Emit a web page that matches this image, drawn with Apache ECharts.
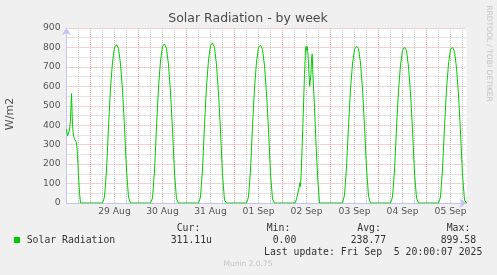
<!DOCTYPE html>
<html>
<head>
<meta charset="utf-8">
<title>Solar Radiation - by week</title>
<script src="https://cdn.jsdelivr.net/npm/echarts@6/dist/echarts.min.js"></script>
<style>
  html, body { margin: 0; padding: 0; background: #f0f0f0; }
  #main { width: 497px; height: 275px; }
</style>
</head>
<body>
<div id="main"></div>
<script type="text/javascript">
// x is counted in hours from 28 Aug 00:00; the graph runs 28 Aug 12:00 .. 05 Sep 20:00
var dayLabels = ['29 Aug', '30 Aug', '31 Aug', '01 Sep', '02 Sep', '03 Sep', '04 Sep', '05 Sep'];

// 28 Aug afternoon, half hourly from 12:00
var aug28Hours = [12, 12.5, 13, 13.5, 14, 14.5, 15, 15.5, 16, 16.5, 17, 17.5, 18, 18.5, 19];
var aug28Vals  = [380, 345, 340, 375, 430, 563, 400, 345, 330, 335, 310, 250, 140, 50, 0];

// clear days, one value per hour 06:00 .. 20:00
var hourly = [6, 7, 8, 9, 10, 11, 12, 13, 14, 15, 16, 17, 18, 19, 20];
var aug29 = [0, 30, 170, 390, 590, 725, 800, 815, 795, 715, 580, 390, 170, 30, 0];
var aug30 = [0, 25, 165, 390, 595, 730, 805, 818, 795, 710, 570, 375, 155, 20, 0];
var aug31 = [0, 30, 175, 400, 600, 735, 810, 824, 800, 710, 565, 370, 145, 15, 0];
var sep01 = [0, 30, 170, 395, 590, 725, 800, 812, 790, 705, 565, 375, 150, 20, 0];
var sep03 = [0, 40, 185, 395, 585, 715, 790, 806, 795, 720, 585, 395, 180, 35, 0];
var sep04 = [0, 30, 170, 385, 580, 710, 785, 801, 785, 700, 565, 375, 155, 25, 0];
var sep05 = [0, 30, 175, 390, 585, 715, 790, 801, 780, 695, 555, 365, 145, 15, 0];

// 02 Sep had some cloud, own sample times
var sep02Hours = [6.3, 7, 7.7, 8.3, 8.75, 9, 9.4, 10.2, 11, 11.5, 11.7, 12, 12.35, 12.7, 13.1, 13.6, 13.85, 14.2, 14.5, 14.85, 15.2, 16, 16.85, 17.7, 18.5];
var sep02Vals  = [0, 20, 52, 80, 105, 85, 165, 404, 661, 790, 805, 785, 805, 770, 690, 600, 592, 660, 740, 767, 661, 490, 284, 112, 0];

var points = [];
function addDay(day, hours, vals) {
    for (var i = 0; i < hours.length; i++) {
        points.push([day * 24 + hours[i], vals[i]]);
    }
}
addDay(0, aug28Hours, aug28Vals);
addDay(1, hourly, aug29);
addDay(2, hourly, aug30);
addDay(3, hourly, aug31);
addDay(4, hourly, sep01);
addDay(5, sep02Hours, sep02Vals);
addDay(6, hourly, sep03);
addDay(7, hourly, sep04);
addDay(8, hourly, sep05);
points.push([212, 0]);

var red = '#eea2a2';
var grey = '#c8c8c8';
var axisCol = '#c4c4f4';
var sans = '"DejaVu Sans"';
var mono = '"DejaVu Sans Mono"';

function txt(x, y, s, font, fill, align, rot) {
    return {
        type: 'text', x: x, y: y, rotation: rot || 0, silent: true,
        style: { text: s, font: font, fill: fill, textAlign: align || 'left', textVerticalAlign: 'middle' }
    };
}

var myChart = echarts.init(document.getElementById('main'));
var option = {
    animation: false,
    backgroundColor: '#f0f0f0',
    grid: { left: 66.5, top: 28, width: 400, height: 175, show: true, backgroundColor: '#ffffff', borderWidth: 0 },
    xAxis: {
        type: 'value', min: 12, max: 212, interval: 6,
        axisLine: { lineStyle: { color: axisCol, width: 1 }, symbol: ['none', 'arrow'], symbolSize: [7, 7] },
        axisTick: { show: false },
        axisLabel: {
            margin: 4, color: '#555', fontFamily: sans, fontSize: 9.2,
            formatter: function (v) {
                if (v > 12 && v % 24 === 12) return dayLabels[(v - 36) / 24] || '';
                return '';
            }
        },
        // first drawn line is 18:00 on 28 Aug, midnights red
        splitLine: { show: true, showMinLine: false, showMaxLine: false, lineStyle: { color: [grey, red, grey, grey], type: [1, 1], width: 1 } }
    },
    yAxis: {
        type: 'value', min: 0, max: 900, interval: 100,
        axisLine: { show: true, lineStyle: { color: axisCol, width: 1 }, symbol: ['none', 'arrow'], symbolSize: [7, 7] },
        axisTick: { show: false },
        axisLabel: { margin: 6, color: '#555', fontFamily: sans, fontSize: 9.2 },
        splitLine: { showMinLine: false, lineStyle: { color: red, type: [1, 1], width: 1 } },
        minorTick: { show: false, splitNumber: 2 },
        minorSplitLine: { show: true, lineStyle: { color: grey, type: [1, 1], width: 1 } }
    },
    series: [{
        name: 'Solar Radiation',
        type: 'line',
        data: points,
        showSymbol: false,
        lineStyle: { color: '#00cc00', width: 1 },
        itemStyle: { color: '#00cc00' }
    }],
    graphic: [
        txt(248, 19, 'Solar Radiation - by week', '12.5px ' + sans, '#4a4a4a', 'center'),
        txt(10.5, 114, 'W/m2', '11px ' + sans, '#555', 'center', Math.PI / 2),
        txt(488.5, 53.5, 'RRDTOOL / TOBI OETIKER', '7.5px ' + sans, '#c4c4c4', 'center', -Math.PI / 2),
        { type: 'rect', shape: { x: 14, y: 237, width: 6, height: 6 }, style: { fill: '#00cc00' }, silent: true },
        txt(176.7, 228, 'Cur:', '9.8px ' + mono, '#333'),
        txt(266.7, 228, 'Min:', '9.8px ' + mono, '#333'),
        txt(357.3, 228, 'Avg:', '9.8px ' + mono, '#333'),
        txt(446.7, 228, 'Max:', '9.8px ' + mono, '#333'),
        txt(26.7, 240, 'Solar Radiation', '9.8px ' + mono, '#333'),
        txt(170.7, 240, '311.11u', '9.8px ' + mono, '#333'),
        txt(272.7, 240, '0.00', '9.8px ' + mono, '#333'),
        txt(350.7, 240, '238.77', '9.8px ' + mono, '#333'),
        txt(440.7, 240, '899.58', '9.8px ' + mono, '#333'),
        txt(482.3, 252, 'Last update: Fri Sep  5 20:00:07 2025', '9.8px ' + mono, '#333', 'right'),
        txt(248, 264.5, 'Munin 2.0.75', '7.5px ' + sans, '#c4c4c4', 'center')
    ]
};
myChart.setOption(option);
</script>
</body>
</html>
